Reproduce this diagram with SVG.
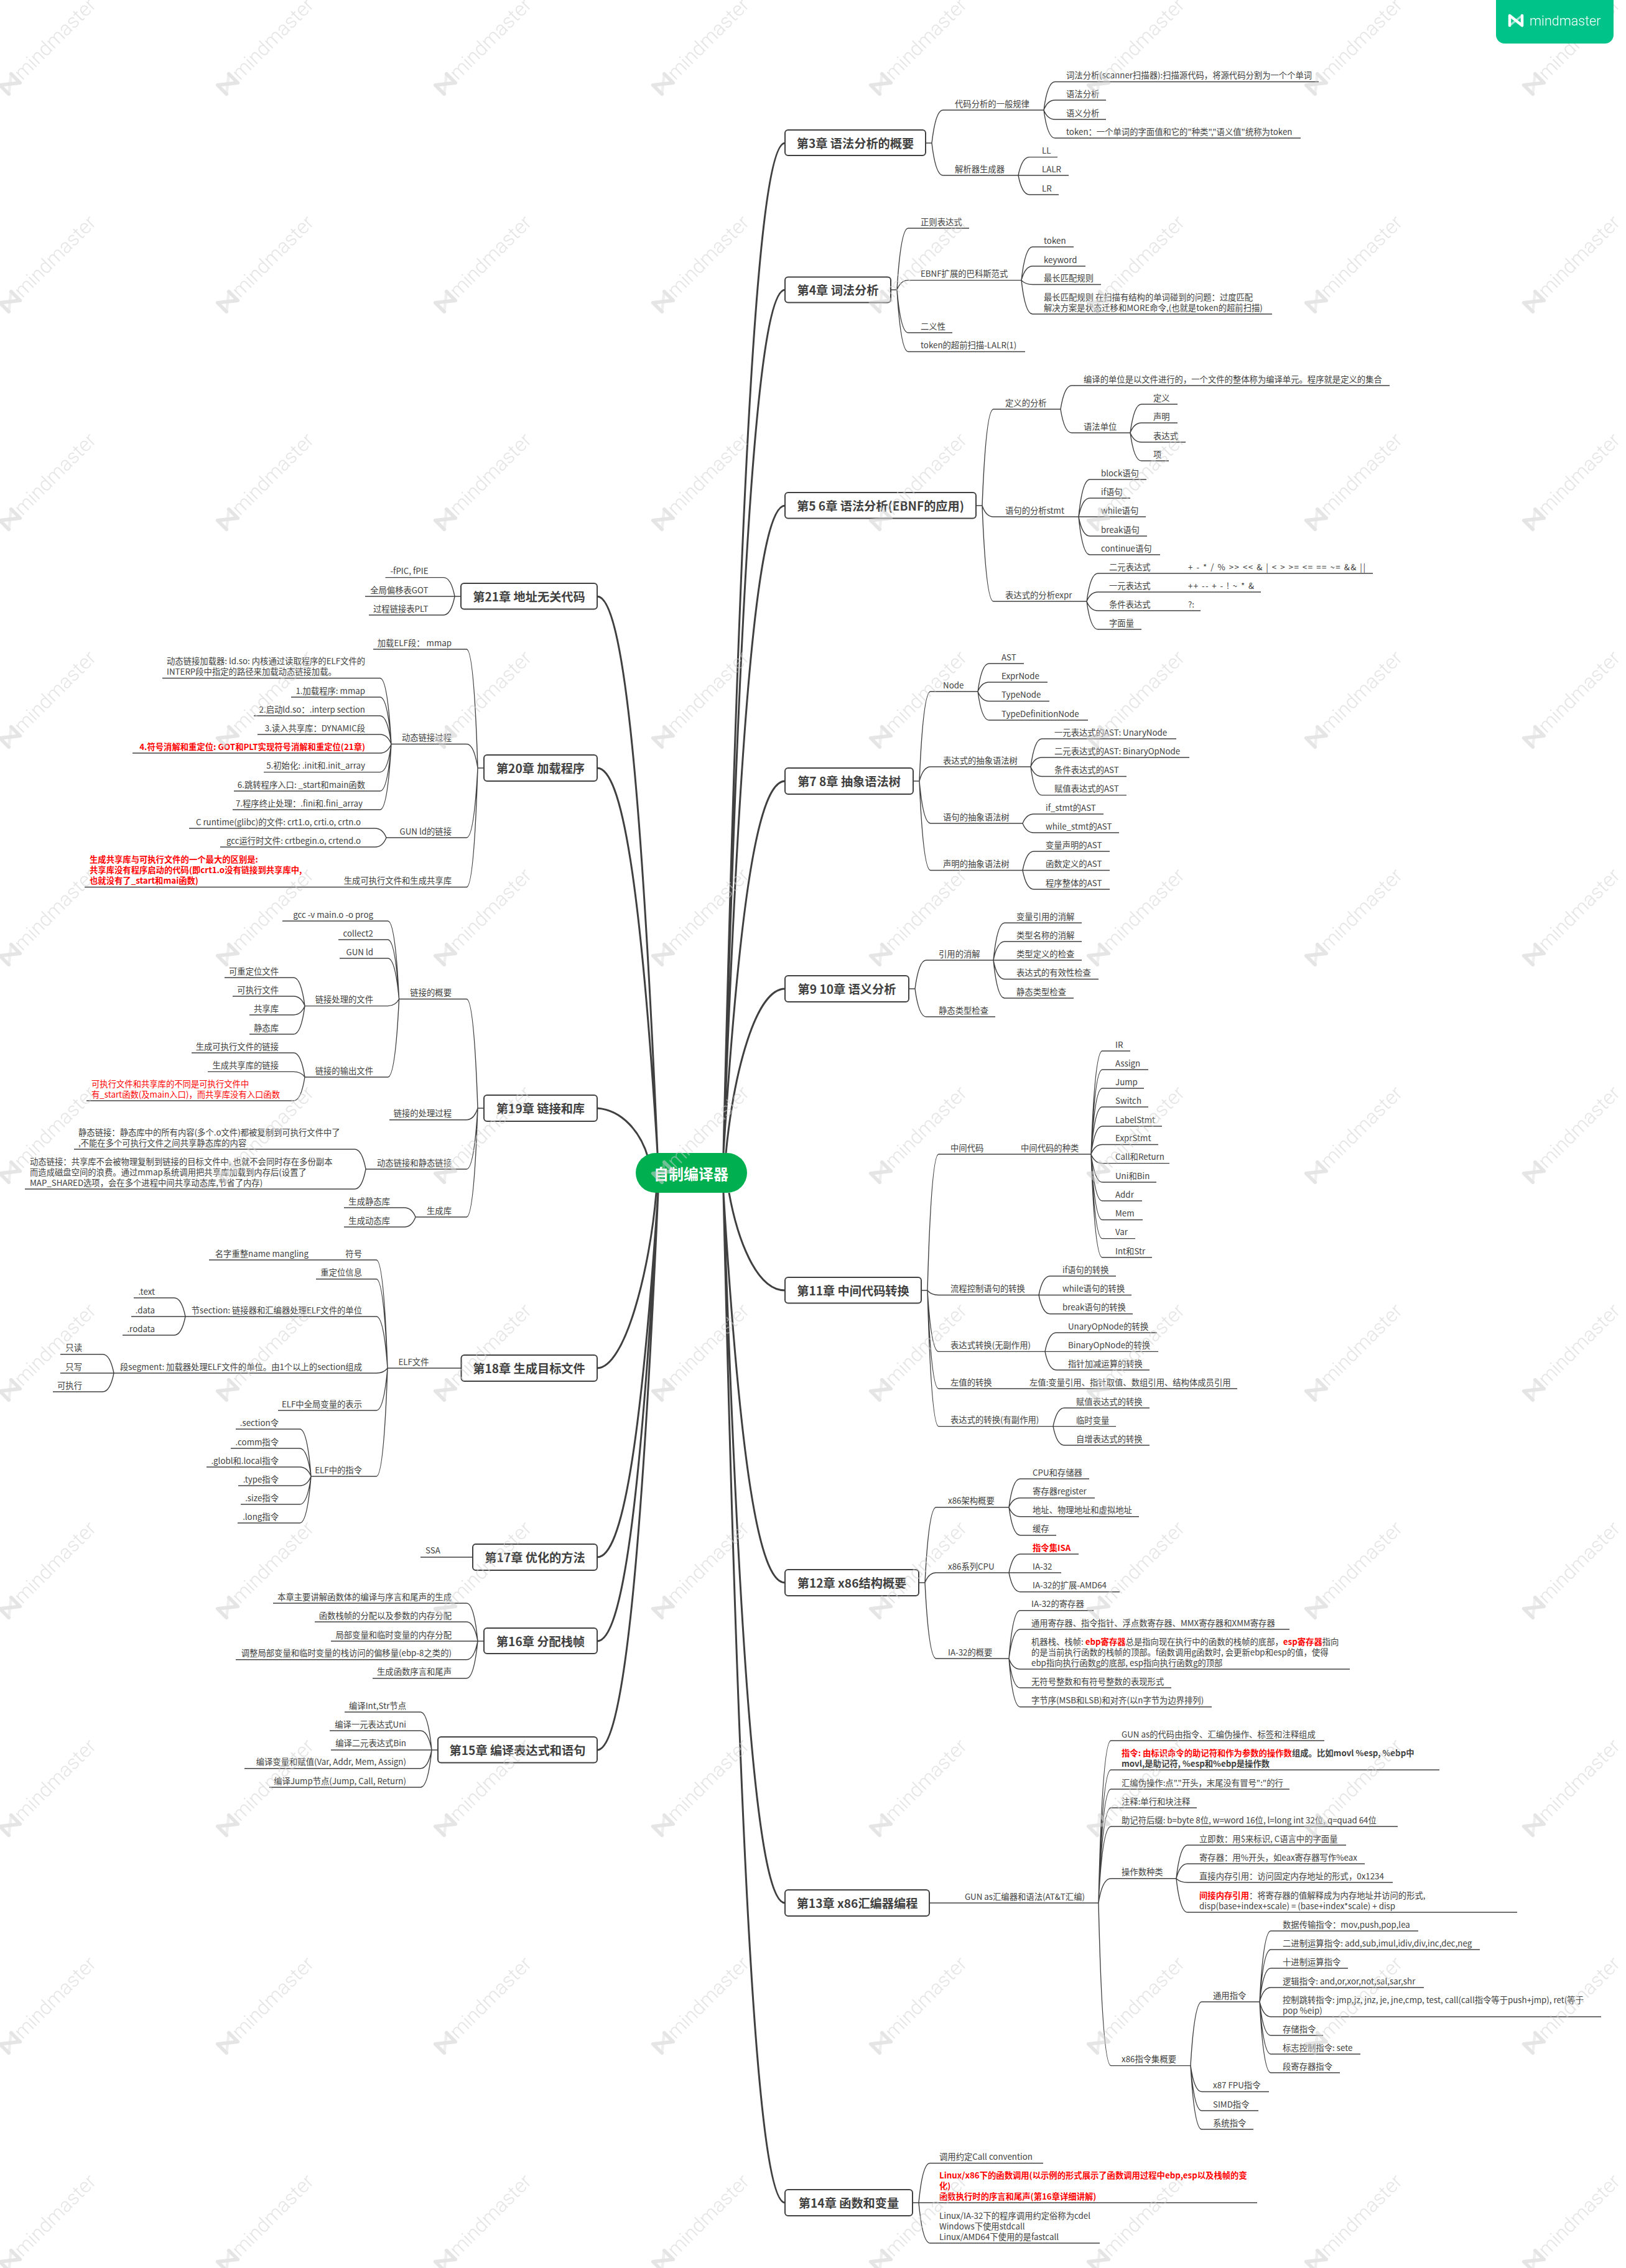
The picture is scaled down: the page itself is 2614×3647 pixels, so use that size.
<svg xmlns="http://www.w3.org/2000/svg" width="2614" height="3647" viewBox="0 0 2614 3647">
<style>
text{font-family:"Noto Sans CJK SC","Liberation Sans",sans-serif;fill:#404040}
.t{font-size:13.33px}
.e{text-anchor:end}
.r{fill:#f00;font-weight:700}
.rn{fill:#f00}
.b{font-weight:700}
.h{font-size:19.2px;font-weight:700;text-anchor:middle;transform:translateY(1px)}
.box{fill:#fff;stroke:#404040;stroke-width:2}
.c{fill:none;stroke:#404040;stroke-width:1.4}
.m{fill:none;stroke:#404040;stroke-width:3}
.wt{font-family:Roboto,"Liberation Sans",sans-serif;font-size:32px;font-weight:300;fill:#cfcfcf}
.lg{fill:none;stroke-linecap:round;stroke-linejoin:round}
</style>
<defs>
<g id="logo"><path class="lg" d="M2 18V2L22 18V2" stroke-width="4.5"/><path class="lg" d="M2 18L22 2" stroke-width="3.5" opacity=".6"/></g>
<g id="wm"><g transform="rotate(-45) scale(1.28) translate(-12 -10)" stroke="#cfcfcf"><use href="#logo"/></g><text class="wt" transform="translate(20 -5) rotate(-45)">mindmaster</text></g>
</defs>
<rect width="2614" height="3647" fill="#fff"/>
<g id="connectors">
<path class="m" d="M1163 1854C1190 729 1220 230 1262 230M1163 1854C1190 882 1220 466 1262 466M1163 1854C1190 1125 1220 813 1262 813M1163 1854C1190 1435 1220 1256 1262 1256M1167 1854C1180 1722 1215 1590 1262 1590M1172 1918C1185 1990 1215 2075 1262 2075M1163 1918C1190 2357 1220 2545 1262 2545M1163 1918C1190 2717 1220 3060 1262 3060M1163 1918C1190 3055 1220 3542 1262 3542"/>
<path class="m" d="M1057 1854C1030 1228 1000 959 960 959M1057 1854C1030 1421 1000 1235 960 1235M960 1782C1000 1785 1030 1820 1042 1862M1055 1918C1045 2040 1005 2200 960 2200M1058 1918C1030 2328 1000 2504 960 2504M1058 1918C1030 2423 1000 2639 960 2639M1058 1918C1030 2545 1000 2814 960 2814"/>
<path class="c" d="M1488 230H1498M1498 230Q1504 177 1516 177H1678M1498 230Q1504 282 1516 282H1637
M1678 177Q1684 131.5 1696 131.5H2120M1678 177Q1684 161 1696 161H1778M1678 177Q1684 192 1696 192H1778M1678 177Q1684 222 1696 222H2091
M1637 282Q1643 252.6 1655 252.6H1700M1637 282H1718M1637 282Q1643 313 1655 313H1702
M1432 466H1442M1442 466Q1448 367 1460 367H1558M1442 466Q1448 450.6 1460 450.6H1642M1442 466Q1448 535 1460 535H1531M1442 466Q1448 565.5 1460 565.5H1648
M1642 450.6Q1648 397 1660 397H1726M1642 450.6Q1648 428 1660 428H1745M1642 450.6Q1648 457.5 1660 457.5H1770M1642 450.6Q1648 505 1660 505H2045
M1569 813H1579M1579 813Q1585 658 1597 658H1705M1579 813Q1585 831 1597 831H1734M1579 813Q1585 967 1597 967H1747
M1705 658Q1711 620 1723 620H2234M1705 658Q1711 696 1723 696H1817
M1817 696Q1823 650 1835 650H1893M1817 696Q1823 680 1835 680H1893M1817 696Q1823 711 1835 711H1906M1817 696Q1823 741 1835 741H1879
M1734 831Q1740 771 1752 771H1843M1734 831Q1740 801 1752 801H1817M1734 831H1842M1734 831Q1740 862 1752 862H1844M1734 831Q1740 892 1752 892H1865
M1747 967Q1753 922 1765 922H2207M1747 967Q1753 952 1765 952H2027M1747 967Q1753 982 1765 982H1930M1747 967Q1753 1012 1765 1012H1835
M1468 1256H1478M1478 1256Q1484 1112 1496 1112H1572M1478 1256Q1484 1233 1496 1233H1657M1478 1256Q1484 1324 1496 1324H1644M1478 1256Q1484 1399.5 1496 1399.5H1644
M1572 1112Q1578 1067 1590 1067H1646M1572 1112Q1578 1097 1590 1097H1684M1572 1112Q1578 1127.5 1590 1127.5H1687M1572 1112Q1578 1158 1590 1158H1749
M1657 1233Q1663 1188 1675 1188H1891M1657 1233Q1663 1218 1675 1218H1912M1657 1233Q1663 1248.5 1675 1248.5H1811M1657 1233Q1663 1278.6 1675 1278.6H1811
M1644 1324Q1650 1309 1662 1309H1774M1644 1324Q1650 1339 1662 1339H1799
M1644 1399.5Q1650 1369 1662 1369H1784M1644 1399.5H1784M1644 1399.5Q1650 1430 1662 1430H1784
M1461 1590H1471M1471 1590Q1477 1544 1489 1544H1597M1471 1590Q1477 1635 1489 1635H1600
M1597 1544Q1603 1484 1615 1484H1739M1597 1544Q1603 1514 1615 1514H1739M1597 1544H1739M1597 1544Q1603 1574.5 1615 1574.5H1766M1597 1544Q1603 1605 1615 1605H1726
M1481 2075H1491M1491 2075Q1497 1856 1509 1856H1754M1491 2075Q1497 2082.5 1509 2082.5H1670M1491 2075Q1497 2173.4 1509 2173.4H1680M1491 2075Q1497 2233 1509 2233H1989M1491 2075Q1497 2293.6 1509 2293.6H1693
M1754 1856Q1760 1690 1772 1690H1817M1754 1856Q1760 1720 1772 1720H1846M1754 1856Q1760 1750 1772 1750H1839M1754 1856Q1760 1780 1772 1780H1846M1754 1856Q1760 1811 1772 1811H1868M1754 1856Q1760 1840.5 1772 1840.5H1862M1754 1856Q1760 1870.6 1772 1870.6H1880M1754 1856Q1760 1901 1772 1901H1859M1754 1856Q1760 1931 1772 1931H1836M1754 1856Q1760 1961.5 1772 1961.5H1837M1754 1856Q1760 1991.6 1772 1991.6H1825M1754 1856Q1760 2022 1772 2022H1852
M1670 2082.5Q1676 2052 1688 2052H1794M1670 2082.5H1819M1670 2082.5Q1676 2112.7 1688 2112.7H1821
M1680 2173.4Q1686 2143 1698 2143H1860M1680 2173.4H1862M1680 2173.4Q1686 2203 1698 2203H1848
M1693 2293.6Q1699 2264 1711 2264H1848M1693 2293.6H1794M1693 2293.6Q1699 2324 1711 2324H1848
M1477 2545H1487M1487 2545Q1493 2423.7 1505 2423.7H1622M1487 2545Q1493 2529 1505 2529H1622M1487 2545Q1493 2667 1505 2667H1622
M1622 2423.7Q1628 2378 1640 2378H1751M1622 2423.7Q1628 2408.7 1640 2408.7H1760M1622 2423.7Q1628 2438.7 1640 2438.7H1831M1622 2423.7Q1628 2468.7 1640 2468.7H1698
M1622 2529Q1628 2499 1640 2499H1734M1622 2529H1706M1622 2529Q1628 2559.7 1640 2559.7H1800
M1622 2667Q1628 2589.7 1640 2589.7H1758M1622 2667Q1628 2620 1640 2620H2073M1622 2667Q1628 2684 1640 2684H2170M1622 2667Q1628 2714 1640 2714H1883M1622 2667Q1628 2744.7 1640 2744.7H1948
M1494 3060H1766M1766 3060Q1772 2799 1786 2799H2129M1766 3060Q1772 2846 1786 2846H2314M1766 3060Q1772 2877 1786 2877H2073M1766 3060Q1772 2907 1786 2907H1924M1766 3060Q1772 2937 1786 2937H2247M1766 3060Q1772 3020.7 1786 3020.7H1891M1766 3060Q1772 3321.6 1786 3321.6H1914
M1891 3020.7Q1897 2967 1909 2967H2164M1891 3020.7Q1897 2997 1909 2997H2194M1891 3020.7Q1897 3027 1909 3027H2239M1891 3020.7Q1897 3075 1909 3075H2439
M1914 3321.6Q1920 3219 1932 3219H2025M1914 3321.6Q1920 3363.5 1932 3363.5H2040M1914 3321.6Q1920 3394 1932 3394H2023M1914 3321.6Q1920 3424 1932 3424H2015
M2025 3219Q2031 3105 2043 3105H2280M2025 3219Q2031 3135 2043 3135H2379M2025 3219Q2031 3165 2043 3165H2167M2025 3219Q2031 3196 2043 3196H2289M2025 3219Q2031 3243 2043 3243H2574M2025 3219Q2031 3273 2043 3273H2127M2025 3219Q2031 3303 2043 3303H2187M2025 3219Q2031 3333 2043 3333H2154
M1467 3542H1477M1477 3542Q1483 3478.5 1495 3478.5H1677M1477 3542H2021M1477 3542Q1483 3607 1495 3607H1768
M741 959H731M731 959Q725 928.6 713 928.6H619.5M731 959H587M731 959Q725 989 713 989H593
M778 1235H768M768 1235Q762 1044 750 1044H600M768 1235Q762 1196.5 750 1196.5H629M768 1235Q762 1347 750 1347H621M768 1235Q762 1426.5 750 1426.5H136
M629 1196.5Q623 1090.5 611 1090.5H261M629 1196.5Q623 1121 611 1121H468M629 1196.5Q623 1151 611 1151H408M629 1196.5Q623 1181 611 1181H414M629 1196.5Q623 1211 611 1211H213M629 1196.5Q623 1241.6 611 1241.6H424M629 1196.5Q623 1272 611 1272H376M629 1196.5Q623 1302 611 1302H374
M621 1347Q615 1332 603 1332H304M621 1347Q615 1362 603 1362H354
M778 1782H768M768 1782Q762 1606.5 750 1606.5H641.5M768 1782Q762 1800.7 750 1800.7H626M768 1782Q762 1880 750 1880H588M768 1782Q762 1957 750 1957H668
M641.5 1606.5Q635.5 1481 623.5 1481H454M641.5 1606.5Q635.5 1511 623.5 1511H544M641.5 1606.5Q635.5 1541 623.5 1541H546M641.5 1606.5Q635.5 1617.6 623.5 1617.6H490M641.5 1606.5Q635.5 1732 623.5 1732H490
M490 1617.6Q484 1572 472 1572H361M490 1617.6Q484 1602 472 1602H374M490 1617.6Q484 1632 472 1632H401M490 1617.6Q484 1663 472 1663H401
M490 1732Q484 1693 472 1693H308M490 1732Q484 1723.4 472 1723.4H334M490 1732Q484 1770 472 1770H139
M588 1880Q582 1848 570 1848H119M588 1880Q582 1912 570 1912H40
M668 1957Q662 1942 650 1942H553M668 1957Q662 1973 650 1973H553
M741 2200H623M623 2200Q617 2026 605 2026H336M623 2200Q617 2056.7 605 2056.7H508M623 2200Q617 2117 605 2117H298M623 2200Q617 2208 605 2208H183M623 2200Q617 2268 605 2268H447M623 2200Q617 2374 605 2374H500
M298 2117Q292 2087 280 2087H215M298 2117H211M298 2117Q292 2147 280 2147H197
M183 2208Q177 2177.7 165 2177.7H97M183 2208H97M183 2208Q177 2238 165 2238H85
M500 2374Q494 2298 482 2298H379M500 2374Q494 2329 482 2329H371M500 2374Q494 2359 482 2359H332M500 2374Q494 2389 482 2389H383M500 2374Q494 2419 482 2419H387M500 2374Q494 2449 482 2449H382
M760 2504H676
M778 2639H768M768 2639Q762 2578 750 2578H439M768 2639Q762 2608 750 2608H506M768 2639H532M768 2639Q762 2668.7 750 2668.7H379M768 2639Q762 2698.7 750 2698.7H599
M704 2814H694M694 2814Q688 2753 676 2753H554M694 2814Q688 2783 676 2783H530M694 2814H532M694 2814Q688 2843.7 676 2843.7H393M694 2814Q688 2874 676 2874H433"/>
</g>
<g id="root"><rect x="1022" y="1854" width="179" height="64" rx="32" fill="#00b050"/><text x="1111" y="1897" text-anchor="middle" font-size="24" font-weight="700" style="fill:#fff">自制编译器</text></g>

<g id="ch3"><rect class="box" x="1262" y="209" width="226" height="41" rx="5"/><text class="h" x="1375" y="237">第3章 语法分析的概要</text></g>
<g id="n3a"><text class="t" x="1535" y="171.5">代码分析的一般规律</text></g>
<g id="n3a1"><text class="t" x="1714" y="126">词法分析(scanner扫描器):扫描源代码，将源代码分割为一个个单词</text></g>
<g id="n3a2"><text class="t" x="1714" y="155.5">语法分析</text></g>
<g id="n3a3"><text class="t" x="1714" y="186.5">语义分析</text></g>
<g id="n3a4"><text class="t" x="1714" y="216.5">token：一个单词的字面值和它的"种类","语义值"统称为token</text></g>
<g id="n3b"><text class="t" x="1535" y="276.5">解析器生成器</text></g>
<g id="n3b1"><text class="t" x="1675" y="247">LL</text></g>
<g id="n3b2"><text class="t" x="1675" y="276.5">LALR</text></g>
<g id="n3b3"><text class="t" x="1675" y="307.5">LR</text></g>

<g id="ch4"><rect class="box" x="1262" y="445.5" width="170" height="41" rx="5"/><text class="h" x="1347" y="473">第4章 词法分析</text></g>
<g id="n4a"><text class="t" x="1480" y="361.5">正则表达式</text></g>
<g id="n4b"><text class="t" x="1480" y="445">EBNF扩展的巴科斯范式</text></g>
<g id="n4b1"><text class="t" x="1678" y="391.5">token</text></g>
<g id="n4b2"><text class="t" x="1678" y="422.5">keyword</text></g>
<g id="n4b3"><text class="t" x="1678" y="452">最长匹配规则</text></g>
<g id="n4b4"><text class="t" x="1678" y="482.5">最长匹配规则 在扫描有结构的单词碰到的问题：过度匹配<tspan x="1678" dy="17">解决方案是状态迁移和MORE命令,(也就是token的超前扫描)</tspan></text></g>
<g id="n4c"><text class="t" x="1480" y="529.5">二义性</text></g>
<g id="n4d"><text class="t" x="1480" y="560">token的超前扫描-LALR(1)</text></g>

<g id="ch56"><rect class="box" x="1262" y="792" width="307" height="41.5" rx="5"/><text class="h" x="1415.5" y="820">第5 6章 语法分析(EBNF的应用)</text></g>
<g id="n5a"><text class="t" x="1616" y="652.5">定义的分析</text></g>
<g id="n5a1"><text class="t" x="1742" y="614.5">编译的单位是以文件进行的，一个文件的整体称为编译单元。程序就是定义的集合</text></g>
<g id="n5a2"><text class="t" x="1742" y="690.5">语法单位</text></g>
<g id="n5a21"><text class="t" x="1854" y="644.5">定义</text></g>
<g id="n5a22"><text class="t" x="1854" y="674.5">声明</text></g>
<g id="n5a23"><text class="t" x="1854" y="705.5">表达式</text></g>
<g id="n5a24"><text class="t" x="1854" y="735.5">项</text></g>
<g id="n5b"><text class="t" x="1616" y="825.5">语句的分析stmt</text></g>
<g id="n5b1"><text class="t" x="1770" y="765.5">block语句</text></g>
<g id="n5b2"><text class="t" x="1770" y="795.5">if语句</text></g>
<g id="n5b3"><text class="t" x="1770" y="825.5">while语句</text></g>
<g id="n5b4"><text class="t" x="1770" y="856.5">break语句</text></g>
<g id="n5b5"><text class="t" x="1770" y="886.5">continue语句</text></g>
<g id="n5c"><text class="t" x="1616" y="961.5">表达式的分析expr</text></g>
<g id="n5c1"><text class="t" x="1783" y="916.5">二元表达式</text></g>
<g id="n5c1a"><text class="t" x="1910" y="916.5" textLength="285" lengthAdjust="spacing">+ - * / % &gt;&gt; &lt;&lt; &amp; | &lt; &gt; &gt;= &lt;= == ~= &amp;&amp; ||</text></g>
<g id="n5c2"><text class="t" x="1783" y="946.5">一元表达式</text></g>
<g id="n5c2a"><text class="t" x="1910" y="946.5" textLength="106" lengthAdjust="spacing">++ -- + - ! ~ * &amp;</text></g>
<g id="n5c3"><text class="t" x="1783" y="976.5">条件表达式</text></g>
<g id="n5c3a"><text class="t" x="1910" y="976.5">?:</text></g>
<g id="n5c4"><text class="t" x="1783" y="1006.5">字面量</text></g>

<g id="ch78"><rect class="box" x="1262" y="1235" width="206" height="42" rx="5"/><text class="h" x="1365" y="1263">第7 8章 抽象语法树</text></g>
<g id="n7a"><text class="t" x="1516" y="1106.5">Node</text></g>
<g id="n7a1"><text class="t" x="1610" y="1061.5">AST</text></g>
<g id="n7a2"><text class="t" x="1610" y="1091.5">ExprNode</text></g>
<g id="n7a3"><text class="t" x="1610" y="1122">TypeNode</text></g>
<g id="n7a4"><text class="t" x="1610" y="1152.5">TypeDefinitionNode</text></g>
<g id="n7b"><text class="t" x="1516" y="1227.5">表达式的抽象语法树</text></g>
<g id="n7b1"><text class="t" x="1695" y="1182.5">一元表达式的AST: UnaryNode</text></g>
<g id="n7b2"><text class="t" x="1695" y="1212.5">二元表达式的AST: BinaryOpNode</text></g>
<g id="n7b3"><text class="t" x="1695" y="1243">条件表达式的AST</text></g>
<g id="n7b4"><text class="t" x="1695" y="1273">赋值表达式的AST</text></g>
<g id="n7c"><text class="t" x="1516" y="1318.5">语句的抽象语法树</text></g>
<g id="n7c1"><text class="t" x="1681" y="1303.5">if_stmt的AST</text></g>
<g id="n7c2"><text class="t" x="1681" y="1333.5">while_stmt的AST</text></g>
<g id="n7d"><text class="t" x="1516" y="1394">声明的抽象语法树</text></g>
<g id="n7d1"><text class="t" x="1681" y="1363.5">变量声明的AST</text></g>
<g id="n7d2"><text class="t" x="1681" y="1394">函数定义的AST</text></g>
<g id="n7d3"><text class="t" x="1681" y="1424.5">程序整体的AST</text></g>

<g id="ch910"><rect class="box" x="1262" y="1569" width="199" height="42" rx="5"/><text class="h" x="1361.5" y="1597">第9 10章 语义分析</text></g>
<g id="n9a"><text class="t" x="1509" y="1538.5">引用的消解</text></g>
<g id="n9a1"><text class="t" x="1634" y="1478.5">变量引用的消解</text></g>
<g id="n9a2"><text class="t" x="1634" y="1508.5">类型名称的消解</text></g>
<g id="n9a3"><text class="t" x="1634" y="1538.5">类型定义的检查</text></g>
<g id="n9a4"><text class="t" x="1634" y="1569">表达式的有效性检查</text></g>
<g id="n9a5"><text class="t" x="1634" y="1599.5">静态类型检查</text></g>
<g id="n9b"><text class="t" x="1509" y="1629.5">静态类型检查</text></g>

<g id="ch11"><rect class="box" x="1262" y="2054" width="219" height="41.5" rx="5"/><text class="h" x="1371.5" y="2082">第11章 中间代码转换</text></g>
<g id="n11a"><text class="t" x="1528" y="1850.5">中间代码</text></g>
<g id="n11a1"><text class="t" x="1641" y="1850.5">中间代码的种类</text></g>
<g id="n11i1"><text class="t" x="1793" y="1684.5">IR</text></g>
<g id="n11i2"><text class="t" x="1793" y="1714.5">Assign</text></g>
<g id="n11i3"><text class="t" x="1793" y="1744.5">Jump</text></g>
<g id="n11i4"><text class="t" x="1793" y="1774.5">Switch</text></g>
<g id="n11i5"><text class="t" x="1793" y="1805.5">LabelStmt</text></g>
<g id="n11i6"><text class="t" x="1793" y="1835">ExprStmt</text></g>
<g id="n11i7"><text class="t" x="1793" y="1865">Call和Return</text></g>
<g id="n11i8"><text class="t" x="1793" y="1895.5">Uni和Bin</text></g>
<g id="n11i9"><text class="t" x="1793" y="1925.5">Addr</text></g>
<g id="n11i10"><text class="t" x="1793" y="1956">Mem</text></g>
<g id="n11i11"><text class="t" x="1793" y="1986">Var</text></g>
<g id="n11i12"><text class="t" x="1793" y="2016.5">Int和Str</text></g>
<g id="n11b"><text class="t" x="1528" y="2077">流程控制语句的转换</text></g>
<g id="n11b1"><text class="t" x="1708" y="2046.5">if语句的转换</text></g>
<g id="n11b2"><text class="t" x="1708" y="2077">while语句的转换</text></g>
<g id="n11b3"><text class="t" x="1708" y="2107">break语句的转换</text></g>
<g id="n11c"><text class="t" x="1528" y="2168">表达式转换(无副作用)</text></g>
<g id="n11c1"><text class="t" x="1717" y="2137.5">UnaryOpNode的转换</text></g>
<g id="n11c2"><text class="t" x="1717" y="2168">BinaryOpNode的转换</text></g>
<g id="n11c3"><text class="t" x="1717" y="2197.5">指针加减运算的转换</text></g>
<g id="n11d"><text class="t" x="1528" y="2227.5">左值的转换</text></g>
<g id="n11d1"><text class="t" x="1655" y="2227.5">左值:变量引用、指针取值、数组引用、结构体成员引用</text></g>
<g id="n11e"><text class="t" x="1528" y="2288">表达式的转换(有副作用)</text></g>
<g id="n11e1"><text class="t" x="1730" y="2258.5">赋值表达式的转换</text></g>
<g id="n11e2"><text class="t" x="1730" y="2288.5">临时变量</text></g>
<g id="n11e3"><text class="t" x="1730" y="2318.5">自增表达式的转换</text></g>

<g id="ch12"><rect class="box" x="1262" y="2524" width="215" height="42" rx="5"/><text class="h" x="1369.5" y="2552">第12章 x86结构概要</text></g>
<g id="n12a"><text class="t" x="1524" y="2418">x86架构概要</text></g>
<g id="n12a1"><text class="t" x="1660" y="2372.5">CPU和存储器</text></g>
<g id="n12a2"><text class="t" x="1660" y="2403">寄存器register</text></g>
<g id="n12a3"><text class="t" x="1660" y="2433">地址、物理地址和虚拟地址</text></g>
<g id="n12a4"><text class="t" x="1660" y="2463">缓存</text></g>
<g id="n12b"><text class="t" x="1524" y="2523.5">x86系列CPU</text></g>
<g id="n12b1"><text class="t" x="1660" y="2493.5"><tspan class="r">指令集ISA</tspan></text></g>
<g id="n12b2"><text class="t" x="1660" y="2523.5">IA-32</text></g>
<g id="n12b3"><text class="t" x="1660" y="2554">IA-32的扩展-AMD64</text></g>
<g id="n12c"><text class="t" x="1524" y="2661.5">IA-32的概要</text></g>
<g id="n12c1"><text class="t" x="1658" y="2584">IA-32的寄存器</text></g>
<g id="n12c2"><text class="t" x="1658" y="2614.5">通用寄存器、指令指针、浮点数寄存器、MMX寄存器和XMM寄存器</text></g>
<g id="n12c3"><text class="t" x="1658" y="2644.5">机器栈、栈帧: <tspan class="r">ebp寄存器</tspan>总是指向现在执行中的函数的栈帧的底部，<tspan class="r">esp寄存器</tspan>指向<tspan x="1658" dy="17">的是当前执行函数的栈帧的顶部。f函数调用g函数时, 会更新ebp和esp的值，使得</tspan><tspan x="1658" dy="17">ebp指向执行函数g的底部, esp指向执行函数g的顶部</tspan></text></g>
<g id="n12c4"><text class="t" x="1658" y="2708.5">无符号整数和有符号整数的表现形式</text></g>
<g id="n12c5"><text class="t" x="1658" y="2739">字节序(MSB和LSB)和对齐(以n字节为边界排列)</text></g>

<g id="ch13"><rect class="box" x="1262" y="3039" width="232" height="42" rx="5"/><text class="h" x="1378" y="3067">第13章 x86汇编器编程</text></g>
<g id="n13"><text class="t e" x="1744" y="3054.5">GUN as汇编器和语法(AT&amp;T汇编)</text></g>
<g id="n13a"><text class="t" x="1803" y="2793.5">GUN as的代码由指令、汇编伪操作、标签和注释组成</text></g>
<g id="n13b"><text class="t b" x="1803" y="2823.5"><tspan class="r">指令: 由标识命令的助记符和作为参数的操作数</tspan>组成。比如movl %esp, %ebp中<tspan x="1803" dy="17">movl,是助记符, %esp和%ebp是操作数</tspan></text></g>
<g id="n13c"><text class="t" x="1803" y="2871.5">汇编伪操作:点"."开头，末尾没有冒号":"的行</text></g>
<g id="n13d"><text class="t" x="1803" y="2901.5">注释:单行和块注释</text></g>
<g id="n13e"><text class="t" x="1803" y="2931.5">助记符后缀: b=byte 8位, w=word 16位, l=long int 32位, q=quad 64位</text></g>
<g id="n13f"><text class="t" x="1803" y="3015">操作数种类</text></g>
<g id="n13f1"><text class="t" x="1928" y="2961.5">立即数：用$来标识, C语言中的字面量</text></g>
<g id="n13f2"><text class="t" x="1928" y="2991.5">寄存器：用%开头，如eax寄存器写作%eax</text></g>
<g id="n13f3"><text class="t" x="1928" y="3021.5">直接内存引用：访问固定内存地址的形式，0x1234</text></g>
<g id="n13f4"><text class="t" x="1928" y="3052.5"><tspan class="r">间接内存引用</tspan>：将寄存器的值解释成为内存地址并访问的形式,<tspan x="1928" dy="17">disp(base+index+scale) = (base+index*scale) + disp</tspan></text></g>
<g id="n13g"><text class="t" x="1803" y="3316">x86指令集概要</text></g>
<g id="n13g1"><text class="t" x="1950" y="3213.5">通用指令</text></g>
<g id="n13g11"><text class="t" x="2062" y="3099.5">数据传输指令：mov,push,pop,lea</text></g>
<g id="n13g12"><text class="t" x="2062" y="3129.5">二进制运算指令: add,sub,imul,idiv,div,inc,dec,neg</text></g>
<g id="n13g13"><text class="t" x="2062" y="3159.5">十进制运算指令</text></g>
<g id="n13g14"><text class="t" x="2062" y="3190.5">逻辑指令: and,or,xor,not,sal,sar,shr</text></g>
<g id="n13g15"><text class="t" x="2062" y="3220.5">控制跳转指令: jmp,jz, jnz, je, jne,cmp, test, call(call指令等于push+jmp), ret(等于<tspan x="2062" dy="17">pop %eip)</tspan></text></g>
<g id="n13g16"><text class="t" x="2062" y="3267.5">存储指令</text></g>
<g id="n13g17"><text class="t" x="2062" y="3297.5">标志控制指令: sete</text></g>
<g id="n13g18"><text class="t" x="2062" y="3327.5">段寄存器指令</text></g>
<g id="n13g2"><text class="t" x="1950" y="3358">x87 FPU指令</text></g>
<g id="n13g3"><text class="t" x="1950" y="3388.5">SIMD指令</text></g>
<g id="n13g4"><text class="t" x="1950" y="3418.5">系统指令</text></g>

<g id="ch14"><rect class="box" x="1262" y="3521" width="205" height="42" rx="5"/><text class="h" x="1364.5" y="3549">第14章 函数和变量</text></g>
<g id="n14a"><text class="t" x="1510" y="3473">调用约定Call  convention</text></g>
<g id="n14b"><text class="t r" x="1510" y="3503">Linux/x86下的函数调用(以示例的形式展示了函数调用过程中ebp,esp以及栈帧的变<tspan x="1510" dy="17">化)</tspan><tspan x="1510" dy="17">函数执行时的序言和尾声(第16章详细讲解)</tspan></text></g>
<g id="n14c"><text class="t" x="1510" y="3567.5">Linux/IA-32下的程序调用约定俗称为cdel<tspan x="1510" dy="17">Windows下使用stdcall</tspan><tspan x="1510" dy="17">Linux/AMD64下使用的是fastcall</tspan></text></g>

<g id="ch21"><rect class="box" x="741" y="938" width="219" height="41.5" rx="5"/><text class="h" x="850.5" y="966">第21章 地址无关代码</text></g>
<g id="n21a"><text class="t e" x="688.5" y="923">-fPIC, fPIE</text></g>
<g id="n21b"><text class="t e" x="688.5" y="953.5">全局偏移表GOT</text></g>
<g id="n21c"><text class="t e" x="688.5" y="983.5">过程链接表PLT</text></g>

<g id="ch20"><rect class="box" x="778" y="1214" width="182" height="42" rx="5"/><text class="h" x="869" y="1242">第20章 加载程序</text></g>
<g id="n20a"><text class="t e" x="726" y="1038.5">加载ELF段： mmap</text></g>
<g id="n20b"><text class="t e" x="726" y="1191">动态链接过程</text></g>
<g id="n20b0"><text class="t" x="268" y="1068">动态链接加载器: ld.so: 内核通过读取程序的ELF文件的<tspan x="268" dy="17">INTERP段中指定的路径来加载动态链接加载。</tspan></text></g>
<g id="n20b1"><text class="t e" x="587" y="1115.5">1.加载程序: mmap</text></g>
<g id="n20b2"><text class="t e" x="587" y="1145.5">2.启动ld.so：.interp section</text></g>
<g id="n20b3"><text class="t e" x="587" y="1175.5">3.读入共享库：DYNAMIC段</text></g>
<g id="n20b4"><text class="t e r" x="587" y="1205.5">4.符号消解和重定位: GOT和PLT实现符号消解和重定位(21章)</text></g>
<g id="n20b5"><text class="t e" x="587" y="1236">5.初始化: .init和.init_array</text></g>
<g id="n20b6"><text class="t e" x="587" y="1266.5">6.跳转程序入口: _start和main函数</text></g>
<g id="n20b7"><text class="t e" x="583" y="1296.5">7.程序终止处理：.fini和.fini_array</text></g>
<g id="n20c"><text class="t e" x="726" y="1341.5">GUN ld的链接</text></g>
<g id="n20c1"><text class="t e" x="580" y="1326.5">C runtime(glibc)的文件: crt1.o, crti.o, crtn.o</text></g>
<g id="n20c2"><text class="t e" x="580" y="1356.5">gcc运行时文件: crtbegin.o, crtend.o</text></g>
<g id="n20d"><text class="t e" x="726" y="1421">生成可执行文件和生成共享库</text></g>
<g id="n20d1"><text class="t r" x="144" y="1387">生成共享库与可执行文件的一个最大的区别是:<tspan x="144" dy="17">共享库没有程序启动的代码(即crt1.o没有链接到共享库中,</tspan><tspan x="144" dy="17">也就没有了_start和mai函数)</tspan></text></g>

<g id="ch19"><rect class="box" x="778" y="1761" width="182" height="42" rx="5"/><text class="h" x="869" y="1789">第19章 链接和库</text></g>
<g id="n19a"><text class="t e" x="726" y="1601">链接的概要</text></g>
<g id="n19a1"><text class="t e" x="600" y="1475.5">gcc -v main.o -o prog</text></g>
<g id="n19a2"><text class="t e" x="600" y="1505.5">collect2</text></g>
<g id="n19a3"><text class="t e" x="600" y="1535.5">GUN ld</text></g>
<g id="n19a4"><text class="t e" x="600" y="1612">链接处理的文件</text></g>
<g id="n19a41"><text class="t e" x="448" y="1566.5">可重定位文件</text></g>
<g id="n19a42"><text class="t e" x="448" y="1596.5">可执行文件</text></g>
<g id="n19a43"><text class="t e" x="448" y="1626.5">共享库</text></g>
<g id="n19a44"><text class="t e" x="448" y="1657.5">静态库</text></g>
<g id="n19a5"><text class="t e" x="600" y="1726.5">链接的输出文件</text></g>
<g id="n19a51"><text class="t e" x="448" y="1687.5">生成可执行文件的链接</text></g>
<g id="n19a52"><text class="t e" x="448" y="1718">生成共享库的链接</text></g>
<g id="n19a53"><text class="t rn" x="147" y="1747.5" style="fill:#f00">可执行文件和共享库的不同是可执行文件中<tspan x="147" dy="17" style="fill:#f00">有_start函数(及main入口)，而共享库没有入口函数</tspan></text></g>
<g id="n19b"><text class="t e" x="726" y="1795">链接的处理过程</text></g>
<g id="n19c"><text class="t e" x="726" y="1874.5">动态链接和静态链接</text></g>
<g id="n19c1"><text class="t" x="126" y="1825.5">静态链接：静态库中的所有内容(多个.o文件)都被复制到可执行文件中了<tspan x="126" dy="17">,不能在多个可执行文件之间共享静态库的内容</tspan></text></g>
<g id="n19c2"><text class="t" x="48" y="1872.5">动态链接：共享库不会被物理复制到链接的目标文件中, 也就不会同时存在多份副本<tspan x="48" dy="17">而造成磁盘空间的浪费。通过mmap系统调用把共享库加载到内存后(设置了</tspan><tspan x="48" dy="17">MAP_SHARED选项，会在多个进程中间共享动态库,节省了内存)</tspan></text></g>
<g id="n19d"><text class="t e" x="726" y="1951.5">生成库</text></g>
<g id="n19d1"><text class="t e" x="627" y="1936.5">生成静态库</text></g>
<g id="n19d2"><text class="t e" x="627" y="1967.5">生成动态库</text></g>

<g id="ch18"><rect class="box" x="741.5" y="2179" width="218.5" height="42" rx="5"/><text class="h" x="850.5" y="2207">第18章 生成目标文件</text></g>
<g id="n18"><text class="t e" x="689.5" y="2194.5">ELF文件</text></g>
<g id="n18a"><text class="t e" x="582" y="2020.5">符号</text></g>
<g id="n18a1"><text class="t e" x="496" y="2020.5">名字重整name mangling</text></g>
<g id="n18b"><text class="t e" x="582" y="2051">重定位信息</text></g>
<g id="n18c"><text class="t e" x="582" y="2111.5">节section: 链接器和汇编器处理ELF文件的单位</text></g>
<g id="n18c1"><text class="t e" x="249" y="2081.5">.text</text></g>
<g id="n18c2"><text class="t e" x="249" y="2111.5">.data</text></g>
<g id="n18c3"><text class="t e" x="249" y="2141.5">.rodata</text></g>
<g id="n18d"><text class="t e" x="582" y="2202.5">段segment: 加载器处理ELF文件的单位。由1个以上的section组成</text></g>
<g id="n18d1"><text class="t e" x="132" y="2172">只读</text></g>
<g id="n18d2"><text class="t e" x="132" y="2202.5">只写</text></g>
<g id="n18d3"><text class="t e" x="132" y="2232.5">可执行</text></g>
<g id="n18e"><text class="t e" x="582" y="2262.5">ELF中全局变量的表示</text></g>
<g id="n18f"><text class="t e" x="582" y="2368.5">ELF中的指令</text></g>
<g id="n18f1"><text class="t e" x="448" y="2292.5">.section令</text></g>
<g id="n18f2"><text class="t e" x="448" y="2323.5">.comm指令</text></g>
<g id="n18f3"><text class="t e" x="448" y="2353.5">.globl和.local指令</text></g>
<g id="n18f4"><text class="t e" x="448" y="2383.5">.type指令</text></g>
<g id="n18f5"><text class="t e" x="448" y="2413.5">.size指令</text></g>
<g id="n18f6"><text class="t e" x="448" y="2443.5">.long指令</text></g>

<g id="ch17"><rect class="box" x="760" y="2483" width="200" height="42" rx="5"/><text class="h" x="860" y="2511">第17章 优化的方法</text></g>
<g id="n17a"><text class="t" x="684" y="2498">SSA</text></g>

<g id="ch16"><rect class="box" x="778" y="2618" width="182" height="41" rx="5"/><text class="h" x="869" y="2646">第16章 分配栈帧</text></g>
<g id="n16a"><text class="t e" x="726" y="2572.5">本章主要讲解函数体的编译与序言和尾声的生成</text></g>
<g id="n16b"><text class="t e" x="726" y="2602.5">函数栈帧的分配以及参数的内存分配</text></g>
<g id="n16c"><text class="t e" x="726" y="2633.5">局部变量和临时变量的内存分配</text></g>
<g id="n16d"><text class="t e" x="726" y="2663">调整局部变量和临时变量的栈访问的偏移量(ebp-8之类的)</text></g>
<g id="n16e"><text class="t e" x="726" y="2693">生成函数序言和尾声</text></g>

<g id="ch15"><rect class="box" x="704" y="2793" width="256" height="41.5" rx="5"/><text class="h" x="832" y="2821">第15章 编译表达式和语句</text></g>
<g id="n15a"><text class="t e" x="653" y="2747.5">编译Int,Str节点</text></g>
<g id="n15b"><text class="t e" x="653" y="2777.5">编译一元表达式Uni</text></g>
<g id="n15c"><text class="t e" x="653" y="2808">编译二元表达式Bin</text></g>
<g id="n15d"><text class="t e" x="653" y="2838">编译变量和赋值(Var, Addr, Mem, Assign)</text></g>
<g id="n15e"><text class="t e" x="653" y="2868.5">编译Jump节点(Jump, Call, Return)</text></g>

<g id="watermark" opacity=".55">
<use href="#wm" x="16" y="135"/><use href="#wm" x="366" y="135"/><use href="#wm" x="716" y="135"/><use href="#wm" x="1066" y="135"/><use href="#wm" x="1416" y="135"/><use href="#wm" x="1766" y="135"/><use href="#wm" x="2116" y="135"/><use href="#wm" x="2466" y="135"/>
<use href="#wm" x="16" y="485"/><use href="#wm" x="366" y="485"/><use href="#wm" x="716" y="485"/><use href="#wm" x="1066" y="485"/><use href="#wm" x="1416" y="485"/><use href="#wm" x="1766" y="485"/><use href="#wm" x="2116" y="485"/><use href="#wm" x="2466" y="485"/>
<use href="#wm" x="16" y="835"/><use href="#wm" x="366" y="835"/><use href="#wm" x="716" y="835"/><use href="#wm" x="1066" y="835"/><use href="#wm" x="1416" y="835"/><use href="#wm" x="1766" y="835"/><use href="#wm" x="2116" y="835"/><use href="#wm" x="2466" y="835"/>
<use href="#wm" x="16" y="1185"/><use href="#wm" x="366" y="1185"/><use href="#wm" x="716" y="1185"/><use href="#wm" x="1066" y="1185"/><use href="#wm" x="1416" y="1185"/><use href="#wm" x="1766" y="1185"/><use href="#wm" x="2116" y="1185"/><use href="#wm" x="2466" y="1185"/>
<use href="#wm" x="16" y="1535"/><use href="#wm" x="366" y="1535"/><use href="#wm" x="716" y="1535"/><use href="#wm" x="1066" y="1535"/><use href="#wm" x="1416" y="1535"/><use href="#wm" x="1766" y="1535"/><use href="#wm" x="2116" y="1535"/><use href="#wm" x="2466" y="1535"/>
<use href="#wm" x="16" y="1885"/><use href="#wm" x="366" y="1885"/><use href="#wm" x="716" y="1885"/><use href="#wm" x="1066" y="1885"/><use href="#wm" x="1416" y="1885"/><use href="#wm" x="1766" y="1885"/><use href="#wm" x="2116" y="1885"/><use href="#wm" x="2466" y="1885"/>
<use href="#wm" x="16" y="2235"/><use href="#wm" x="366" y="2235"/><use href="#wm" x="716" y="2235"/><use href="#wm" x="1066" y="2235"/><use href="#wm" x="1416" y="2235"/><use href="#wm" x="1766" y="2235"/><use href="#wm" x="2116" y="2235"/><use href="#wm" x="2466" y="2235"/>
<use href="#wm" x="16" y="2585"/><use href="#wm" x="366" y="2585"/><use href="#wm" x="716" y="2585"/><use href="#wm" x="1066" y="2585"/><use href="#wm" x="1416" y="2585"/><use href="#wm" x="1766" y="2585"/><use href="#wm" x="2116" y="2585"/><use href="#wm" x="2466" y="2585"/>
<use href="#wm" x="16" y="2935"/><use href="#wm" x="366" y="2935"/><use href="#wm" x="716" y="2935"/><use href="#wm" x="1066" y="2935"/><use href="#wm" x="1416" y="2935"/><use href="#wm" x="1766" y="2935"/><use href="#wm" x="2116" y="2935"/><use href="#wm" x="2466" y="2935"/>
<use href="#wm" x="16" y="3285"/><use href="#wm" x="366" y="3285"/><use href="#wm" x="716" y="3285"/><use href="#wm" x="1066" y="3285"/><use href="#wm" x="1416" y="3285"/><use href="#wm" x="1766" y="3285"/><use href="#wm" x="2116" y="3285"/><use href="#wm" x="2466" y="3285"/>
<use href="#wm" x="16" y="3635"/><use href="#wm" x="366" y="3635"/><use href="#wm" x="716" y="3635"/><use href="#wm" x="1066" y="3635"/><use href="#wm" x="1416" y="3635"/><use href="#wm" x="1766" y="3635"/><use href="#wm" x="2116" y="3635"/><use href="#wm" x="2466" y="3635"/>
</g>
<g id="badge"><path d="M2405 0H2594V56A14 14 0 0 1 2580 70H2419A14 14 0 0 1 2405 56Z" fill="#00c38a"/><g transform="translate(2425 23)" stroke="#fff"><use href="#logo"/></g><text x="2459" y="41" font-size="21.5" font-weight="300" style="font-family:Roboto,sans-serif;fill:#fff">mindmaster</text></g>
</svg>
